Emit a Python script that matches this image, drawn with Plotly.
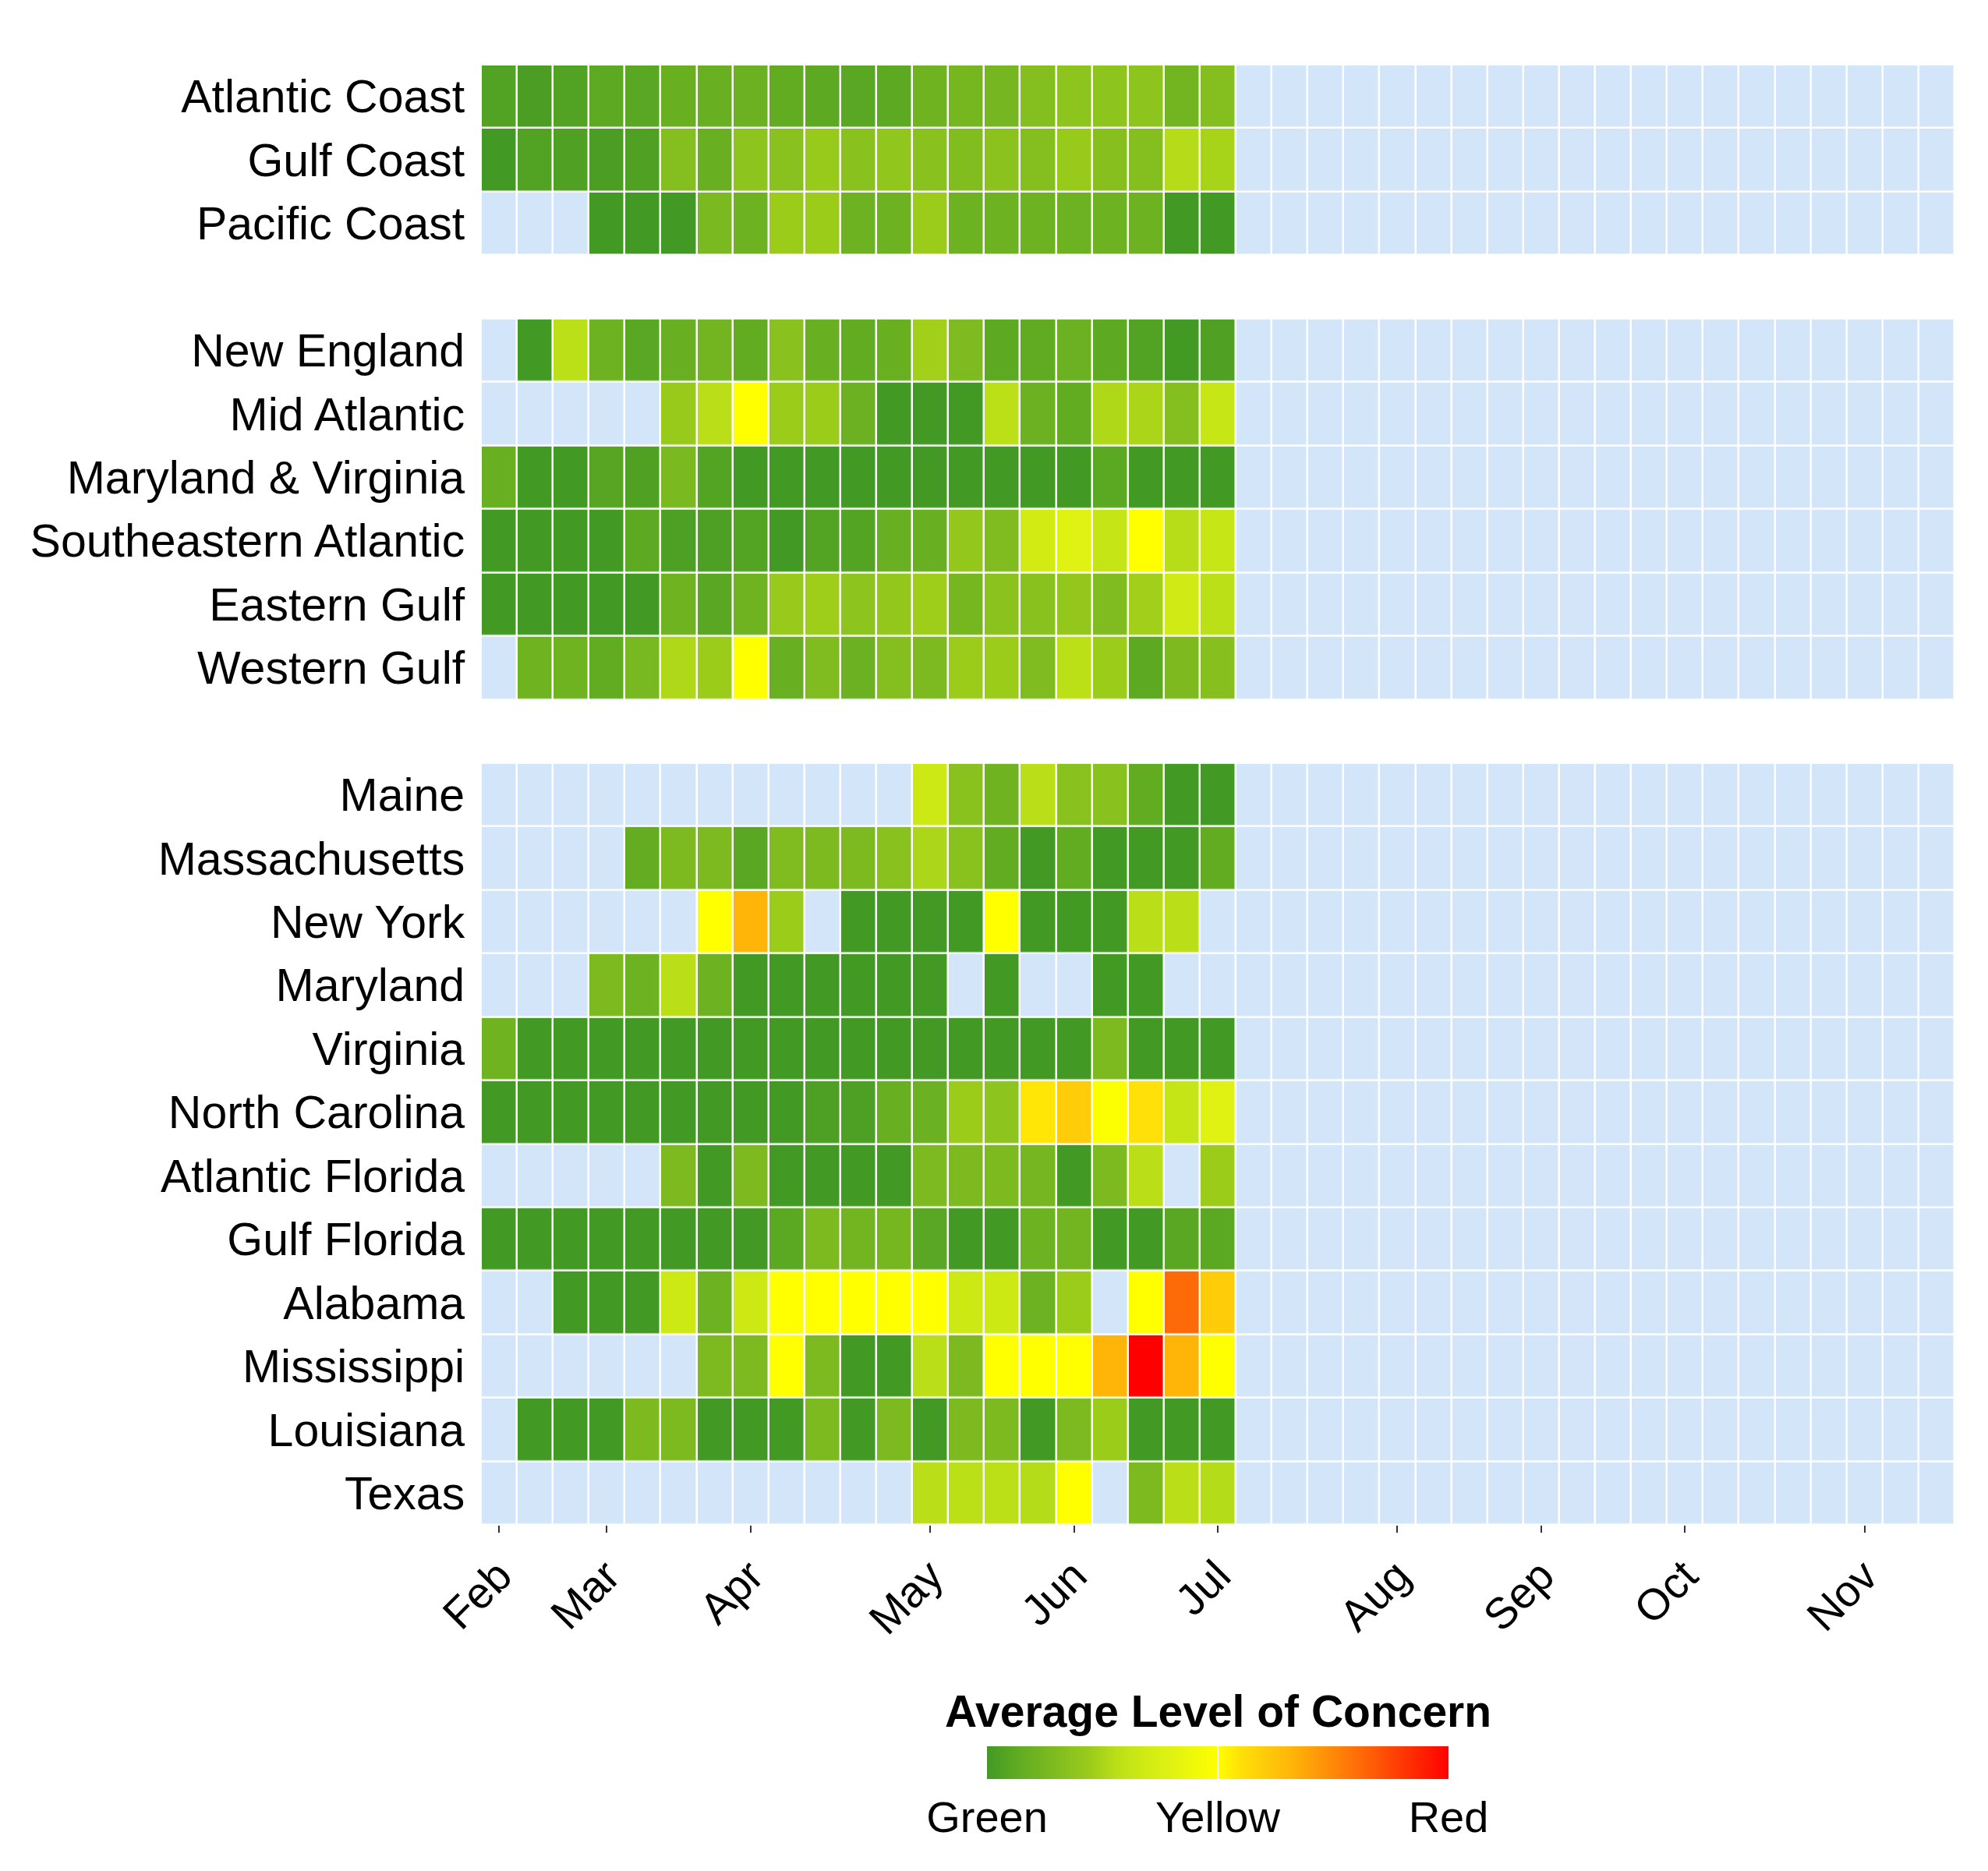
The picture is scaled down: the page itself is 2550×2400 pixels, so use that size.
import plotly.graph_objects as go
from plotly.subplots import make_subplots

N = None
n_weeks = 41
week_index = list(range(n_weeks))
month_tick_weeks = [0, 3, 7, 12, 16, 20, 25, 29, 33, 38]
month_labels = ["Feb", "Mar", "Apr", "May", "Jun", "Jul", "Aug", "Sep", "Oct", "Nov"]

# concern level: 1 = Green, 2 = Yellow, 3 = Red ; None = no data
coast_labels = ["Atlantic Coast", "Gulf Coast", "Pacific Coast"]
coast_values = [
    [1.07, 1.04, 1.07, 1.12, 1.10, 1.18, 1.17, 1.19, 1.14, 1.12, 1.10, 1.12, 1.21, 1.25, 1.24, 1.32, 1.37, 1.37, 1.37, 1.23, 1.32],
    [1.00, 1.07, 1.06, 1.04, 1.06, 1.32, 1.17, 1.37, 1.35, 1.43, 1.35, 1.39, 1.35, 1.31, 1.36, 1.32, 1.43, 1.34, 1.32, 1.54, 1.49],
    [N, N, N, 1.00, 1.00, 1.00, 1.27, 1.20, 1.45, 1.45, 1.20, 1.20, 1.45, 1.20, 1.20, 1.20, 1.20, 1.20, 1.20, 1.00, 1.00],
]

region_labels = ["New England", "Mid Atlantic", "Maryland & Virginia",
                 "Southeastern Atlantic", "Eastern Gulf", "Western Gulf"]
region_values = [
    [N, 1.00, 1.57, 1.20, 1.10, 1.17, 1.23, 1.14, 1.35, 1.17, 1.14, 1.18, 1.47, 1.29, 1.12, 1.13, 1.19, 1.12, 1.07, 1.00, 1.06],
    [N, N, N, N, N, 1.43, 1.56, 2.00, 1.45, 1.45, 1.19, 1.00, 1.00, 1.00, 1.57, 1.19, 1.14, 1.52, 1.50, 1.32, 1.63],
    [1.17, 1.00, 1.00, 1.09, 1.06, 1.27, 1.08, 1.00, 1.00, 1.00, 1.00, 1.00, 1.00, 1.00, 1.00, 1.00, 1.00, 1.11, 1.00, 1.00, 1.00],
    [1.00, 1.00, 1.00, 1.00, 1.12, 1.05, 1.05, 1.08, 1.00, 1.08, 1.08, 1.17, 1.17, 1.40, 1.30, 1.70, 1.80, 1.62, 2.00, 1.55, 1.63],
    [1.00, 1.00, 1.00, 1.00, 1.00, 1.21, 1.10, 1.21, 1.43, 1.46, 1.37, 1.40, 1.46, 1.25, 1.36, 1.35, 1.40, 1.30, 1.47, 1.68, 1.57],
    [N, 1.21, 1.21, 1.14, 1.26, 1.52, 1.45, 2.00, 1.17, 1.30, 1.19, 1.32, 1.28, 1.45, 1.45, 1.30, 1.57, 1.45, 1.12, 1.28, 1.34],
]

state_labels = ["Maine", "Massachusetts", "New York", "Maryland", "Virginia", "North Carolina",
                "Atlantic Florida", "Gulf Florida", "Alabama", "Mississippi", "Louisiana", "Texas"]
state_values = [
    [N, N, N, N, N, N, N, N, N, N, N, N, 1.66, 1.35, 1.21, 1.56, 1.35, 1.35, 1.14, 1.00, 1.00],
    [N, N, N, N, 1.15, 1.28, 1.28, 1.10, 1.30, 1.28, 1.28, 1.35, 1.51, 1.35, 1.14, 1.00, 1.14, 1.00, 1.00, 1.00, 1.14],
    [N, N, N, N, N, N, 2.00, 2.32, 1.45, N, 1.00, 1.00, 1.00, 1.00, 2.00, 1.00, 1.00, 1.00, 1.56, 1.56, N],
    [N, N, N, 1.28, 1.20, 1.56, 1.20, 1.00, 1.00, 1.00, 1.00, 1.00, 1.00, N, 1.00, N, N, 1.00, 1.00, N, N],
    [1.21, 1.00, 1.00, 1.00, 1.00, 1.00, 1.00, 1.00, 1.00, 1.00, 1.00, 1.00, 1.00, 1.00, 1.00, 1.00, 1.00, 1.28, 1.00, 1.00, 1.00],
    [1.00, 1.00, 1.00, 1.00, 1.00, 1.00, 1.00, 1.00, 1.00, 1.05, 1.05, 1.17, 1.19, 1.45, 1.37, 2.08, 2.20, 1.98, 2.10, 1.62, 1.80],
    [N, N, N, N, N, 1.28, 1.00, 1.28, 1.00, 1.00, 1.00, 1.00, 1.28, 1.28, 1.28, 1.24, 1.00, 1.28, 1.56, N, 1.45],
    [1.00, 1.00, 1.00, 1.00, 1.00, 1.00, 1.00, 1.00, 1.11, 1.28, 1.23, 1.25, 1.10, 1.00, 1.00, 1.20, 1.23, 1.00, 1.00, 1.10, 1.11],
    [N, N, 1.00, 1.00, 1.00, 1.66, 1.20, 1.66, 2.00, 2.00, 2.00, 2.00, 2.00, 1.66, 1.66, 1.20, 1.45, N, 2.00, 2.62, 2.20],
    [N, N, N, N, N, N, 1.28, 1.28, 2.00, 1.28, 1.00, 1.00, 1.56, 1.28, 2.00, 2.00, 2.00, 2.32, 3.00, 2.32, 2.00],
    [N, 1.00, 1.00, 1.00, 1.28, 1.28, 1.00, 1.00, 1.00, 1.28, 1.00, 1.28, 1.00, 1.28, 1.28, 1.00, 1.28, 1.45, 1.00, 1.00, 1.00],
    [N, N, N, N, N, N, N, N, N, N, N, N, 1.56, 1.57, 1.57, 1.54, 2.00, N, 1.28, 1.56, 1.54],
]

level_values = [1, 2, 3]
level_names = ["Green", "Yellow", "Red"]
legend_title = "Average Level of Concern"

concern_scale = [
    [0.00, "#429924"], [0.07, "#62AC22"], [0.14, "#7CBA20"], [0.225, "#9CCC1A"],
    [0.28, "#BADF18"], [0.33, "#CCE914"], [0.40, "#E0F212"], [0.50, "#FFFF00"],
    [0.55, "#FFE008"], [0.60, "#FFCC0A"], [0.66, "#FFB508"], [0.81, "#FF6A08"],
    [1.00, "#FF0000"],
]
na_color = "#D3E5F8"
FONT = "Arial, Liberation Sans, sans-serif"


def pad(rows):
    return [r + [None] * (n_weeks - len(r)) for r in rows]


panels = [(coast_labels, coast_values), (region_labels, region_values), (state_labels, state_values)]

fig = make_subplots(rows=3, cols=1, shared_xaxes=True,
                    row_heights=[3, 6, 12], vertical_spacing=1 / 23)

for i, (labels, vals) in enumerate(panels, start=1):
    z = pad(vals)
    z_na = [[1 if v is None else None for v in row] for row in z]
    fig.add_trace(go.Heatmap(
        x=week_index, y=labels, z=z_na, colorscale=[[0, na_color], [1, na_color]],
        showscale=False, xgap=2.5, ygap=2.5, hoverinfo="skip"), row=i, col=1)
    fig.add_trace(go.Heatmap(
        x=week_index, y=labels, z=z, coloraxis="coloraxis",
        xgap=2.5, ygap=2.5), row=i, col=1)
    fig.update_yaxes(type="category", autorange="reversed", showgrid=False,
                     zeroline=False, showline=False, ticks="outside", ticklen=8,
                     tickcolor="rgba(0,0,0,0)",
                     tickfont=dict(family=FONT, size=59, color="black"), row=i, col=1)
    fig.update_xaxes(range=[-0.5, n_weeks - 0.5], showgrid=False, zeroline=False,
                     showline=False, row=i, col=1)

fig.update_xaxes(tickmode="array", tickvals=month_tick_weeks, ticktext=month_labels,
                 ticks="outside", ticklen=9, tickwidth=2, tickcolor="#333333",
                 tickangle=-45, tickfont=dict(family=FONT, size=56, color="black"),
                 row=3, col=1)

fig.add_annotation(text="<b>" + legend_title + "</b>", x=0.5, xref="paper",
                   y=-0.1276, yref="paper", xanchor="center", yanchor="middle",
                   showarrow=False, font=dict(family=FONT, size=57, color="black"))

fig.update_layout(
    width=2550, height=2400,
    margin=dict(l=617, r=43, t=83, b=444, autoexpand=False),
    plot_bgcolor="white", paper_bgcolor="white",
    font=dict(family=FONT, color="black"),
    coloraxis=dict(
        colorscale=concern_scale, cmin=1, cmax=3,
        colorbar=dict(
            orientation="h", x=0.5, xanchor="center",
            y=(2400 - 2240) / 2400, yref="container", yanchor="top", ypad=0,
            lenmode="pixels", len=612, thickness=42, outlinewidth=0,
            tickmode="array", tickvals=level_values, ticktext=level_names,
            ticks="inside", ticklen=42, tickwidth=2, tickcolor="white",
            tickfont=dict(family=FONT, size=56, color="black"),
        ),
    ),
)

fig.write_html("out.html")
